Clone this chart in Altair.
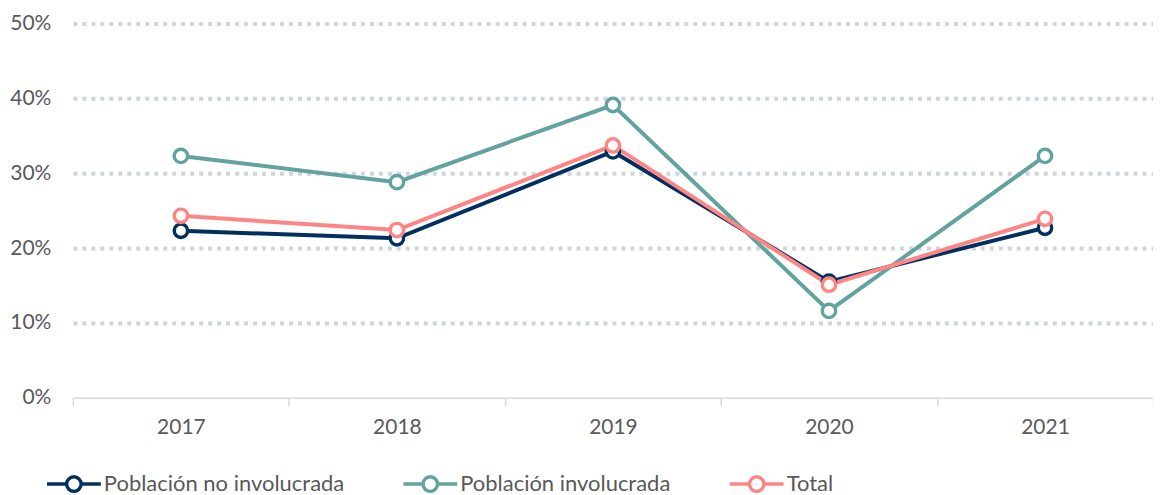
import altair as alt
import pandas as pd

years = ["2017", "2018", "2019", "2020", "2021"]
series_names = ["Población no involucrada", "Población involucrada", "Total"]
no_involucrada = [0.223, 0.213, 0.329, 0.155, 0.227]
involucrada = [0.323, 0.288, 0.391, 0.116, 0.323]
total = [0.243, 0.224, 0.337, 0.151, 0.239]
colors = ["#00305F", "#62A39F", "#FF8585"]

rows = []
for name, vals in zip(series_names, [no_involucrada, involucrada, total]):
    for y, v in zip(years, vals):
        rows.append({"year": y, "serie": name, "value": v})
df = pd.DataFrame(rows)

r = 0.27
sym = (f"M-1,0L-{r},0M{r},0L1,0M-{r},0A{r},{r},0,1,1,{r},0A{r},{r},0,1,1,-{r},0Z")

color = alt.Color(
    "serie:N",
    scale=alt.Scale(domain=series_names, range=colors),
    legend=alt.Legend(
        title=None, orient="none", direction="horizontal",
        legendX=-28, legendY=432,
        symbolType=sym, symbolSize=2900, symbolStrokeWidth=3.4,
        symbolFillColor="white", labelFontSize=22, labelFont="Lato",
        labelColor="#595959", columnPadding=52, labelOffset=1, labelLimit=0,
    ),
)

x = alt.X("year:O", title=None, sort=years,
          scale=alt.Scale(paddingInner=0, paddingOuter=0),
          axis=alt.Axis(labelAngle=0, labelFontSize=21, labelFont="Lato",
                        labelColor="#595959", labelPadding=11, tickBand="extent",
                        tickSize=8, tickColor="#D9D9D9", domainColor="#D9D9D9",
                        domainWidth=1.5, tickWidth=1.5))
y = alt.Y("value:Q", title=None,
          scale=alt.Scale(domain=[0, 0.5], nice=False),
          axis=alt.Axis(values=[0, 0.1, 0.2, 0.3, 0.4, 0.5], format=".0%",
                        labelFontSize=21, labelFont="Lato", labelColor="#595959",
                        labelPadding=22, domain=False, ticks=False,
                        gridColor="#D0D4DD", gridWidth=4, gridDash=[4, 5],
                        gridOpacity={"condition": {"test": "datum.value === 0", "value": 0}, "value": 1}))

base = alt.Chart(df)
lines = base.mark_line(strokeWidth=4).encode(x=x, y=y, color=color,
                                             order=alt.Order("year:O"))
points = base.mark_point(filled=True, size=180, strokeWidth=3.4, fill="white", opacity=1).encode(
    x=x, y=y, stroke=alt.Stroke("serie:N", scale=alt.Scale(domain=series_names, range=colors), legend=None))

chart = alt.layer(lines, points).properties(
    width=1082, height=375,
    padding={"left": 65, "top": 15, "right": 0, "bottom": 105},
    autosize=alt.AutoSizeParams(type="none"),
).configure_view(stroke=None)

chart.save("out.html", embed_options={"renderer": "svg", "actions": False})
